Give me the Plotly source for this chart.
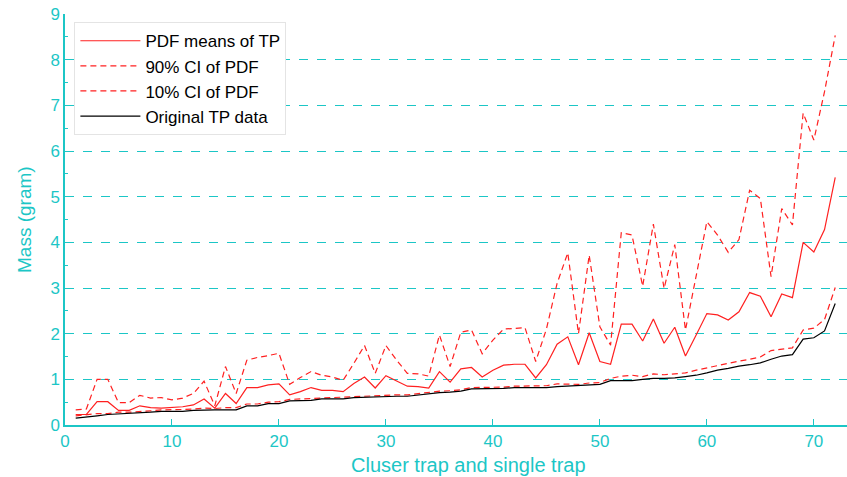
import plotly.graph_objects as go

x_vals = list(range(1, 73))

pdf_mean = [0.23, 0.23, 0.51, 0.51, 0.32, 0.32, 0.42, 0.38, 0.37, 0.38,
            0.40, 0.44, 0.57, 0.37, 0.69, 0.47, 0.82, 0.82, 0.88, 0.90,
            0.66, 0.73, 0.82, 0.76, 0.76, 0.73, 0.91, 1.05, 0.81, 1.08,
            0.96, 0.85, 0.84, 0.81, 1.17, 0.94, 1.23, 1.26, 1.05, 1.20,
            1.31, 1.33, 1.33, 1.03, 1.32, 1.77, 1.93, 1.32, 2.02, 1.39,
            1.33, 2.21, 2.21, 1.84, 2.32, 1.79, 2.14, 1.51, 1.97, 2.44,
            2.41, 2.30, 2.48, 2.90, 2.82, 2.37, 2.87, 2.79, 4.00, 3.79,
            4.28, 5.42]

ci90 = [0.33, 0.35, 1.00, 1.00, 0.49, 0.49, 0.65, 0.59, 0.60, 0.55,
        0.59, 0.69, 0.96, 0.42, 1.28, 0.69, 1.42, 1.48, 1.52, 1.57,
        0.89, 1.04, 1.17, 1.09, 1.05, 0.98, 1.35, 1.74, 1.13, 1.74,
        1.42, 1.13, 1.12, 1.07, 1.97, 1.28, 2.03, 2.08, 1.56, 1.86,
        2.10, 2.11, 2.13, 1.39, 2.10, 3.10, 3.77, 2.00, 3.72, 2.15,
        1.75, 4.21, 4.16, 3.04, 4.40, 2.99, 3.95, 2.08, 3.25, 4.45,
        4.16, 3.78, 4.06, 5.14, 4.96, 3.25, 4.74, 4.38, 6.83, 6.24,
        7.30, 8.53]

ci10 = [0.20, 0.22, 0.25, 0.25, 0.28, 0.28, 0.29, 0.31, 0.33, 0.33,
        0.34, 0.35, 0.37, 0.36, 0.38, 0.38, 0.46, 0.46, 0.50, 0.51,
        0.56, 0.57, 0.58, 0.60, 0.61, 0.61, 0.63, 0.64, 0.64, 0.65,
        0.66, 0.66, 0.69, 0.71, 0.74, 0.75, 0.77, 0.82, 0.82, 0.82,
        0.83, 0.85, 0.85, 0.85, 0.86, 0.90, 0.90, 0.89, 0.92, 0.93,
        1.02, 1.07, 1.09, 1.06, 1.12, 1.10, 1.12, 1.14, 1.20, 1.25,
        1.31, 1.35, 1.40, 1.44, 1.49, 1.63, 1.66, 1.69, 2.08, 2.12,
        2.31, 3.01]

original = [0.15, 0.17, 0.20, 0.23, 0.24, 0.25, 0.26, 0.28, 0.30, 0.30,
            0.30, 0.32, 0.33, 0.33, 0.33, 0.33, 0.42, 0.42, 0.47, 0.47,
            0.53, 0.54, 0.54, 0.57, 0.57, 0.57, 0.60, 0.61, 0.61, 0.62,
            0.63, 0.63, 0.66, 0.68, 0.71, 0.72, 0.74, 0.79, 0.79, 0.79,
            0.80, 0.82, 0.82, 0.82, 0.82, 0.84, 0.85, 0.86, 0.88, 0.89,
            0.97, 0.97, 0.97, 1.00, 1.02, 1.02, 1.03, 1.06, 1.09, 1.14,
            1.20, 1.24, 1.29, 1.32, 1.36, 1.44, 1.51, 1.54, 1.88, 1.91,
            2.06, 2.66]

y_ticks = [0, 1, 2, 3, 4, 5, 6, 7, 8, 9]
x_ticks = [0, 10, 20, 30, 40, 50, 60, 70]

CYAN = "#1CC6C6"
RED = "#FF2020"
DASH = "6px,4px"
FONT = "Liberation Sans Narrow, Arial Narrow, Liberation Sans, sans-serif"

fig = go.Figure()
fig.add_trace(go.Scatter(x=x_vals, y=pdf_mean, mode="lines", name="PDF means of TP",
                         line=dict(color=RED, width=1.2)))
fig.add_trace(go.Scatter(x=x_vals, y=ci90, mode="lines", name="90% CI of PDF",
                         line=dict(color=RED, width=1.2, dash=DASH)))
fig.add_trace(go.Scatter(x=x_vals, y=ci10, mode="lines", name="10% CI of PDF",
                         line=dict(color=RED, width=1.2, dash=DASH)))
fig.add_trace(go.Scatter(x=x_vals, y=original, mode="lines", name="Original TP data",
                         line=dict(color="#000000", width=1.2)))

fig.update_layout(
    width=847, height=477,
    margin=dict(l=65, r=0, t=14, b=52, autoexpand=False),
    paper_bgcolor="white", plot_bgcolor="white",
    showlegend=True,
    legend=dict(x=0.012, y=0.98, xanchor="left", yanchor="top",
                bgcolor="white", bordercolor="#E4E4E4", borderwidth=1,
                font=dict(family="Liberation Sans, Arial, sans-serif", size=17, color="#000000"),
                itemwidth=60, tracegroupgap=0),
    xaxis=dict(range=[0, 73.1], tickvals=x_ticks, ticks="inside", ticklen=6,
               tickcolor=CYAN, showline=True, linecolor=CYAN, linewidth=1.5,
               showgrid=False, zeroline=False, automargin=False,
               tickfont=dict(family=FONT, size=17, color=CYAN)),
    yaxis=dict(range=[0, 9], tickvals=y_ticks, ticks="inside", ticklen=6,
               tickcolor=CYAN, showline=True, linecolor=CYAN, linewidth=1.5,
               showgrid=True, gridcolor=CYAN, griddash="dash", gridwidth=1,
               zeroline=False, automargin=False,
               minor=dict(dtick=0.5, ticks="inside", ticklen=3, tickcolor=CYAN, showgrid=False),
               tickfont=dict(family=FONT, size=17, color=CYAN)),
    annotations=[
        dict(text="Cluser trap and single trap", xref="paper", yref="paper",
             x=0.5, y=0, xanchor="center", yanchor="top", yshift=-27, xshift=12,
             showarrow=False, font=dict(family=FONT, size=20, color=CYAN)),
        dict(text="Mass (gram)", xref="paper", yref="paper",
             x=0, y=0.5, xanchor="right", yanchor="middle", xshift=-28, yshift=0,
             textangle=-90, showarrow=False, font=dict(family=FONT, size=19, color=CYAN)),
    ],
)

fig.write_html("out.html", config={"displayModeBar": False},
               post_script="document.body.style.margin='0';document.body.style.overflow='hidden';")
